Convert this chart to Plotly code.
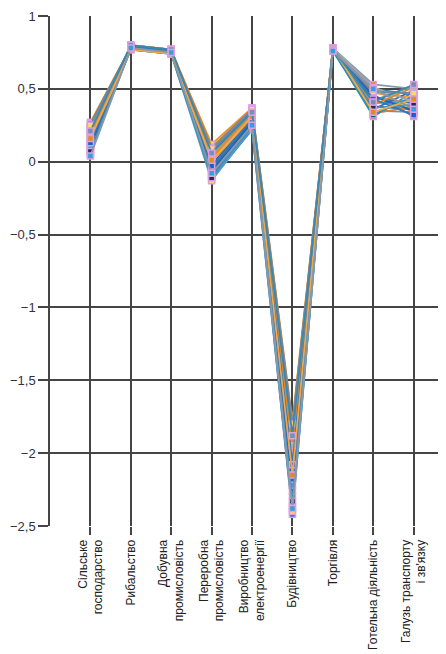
import plotly.graph_objects as go

categories = [
    "Сільське<br>господарство",
    "Рибальство",
    "Добувна<br>промисловість",
    "Переробна<br>промисловість",
    "Виробництво<br>електроенергії",
    "Будівництво",
    "Торгівля",
    "Готельна діяльність",
    "Галузь транспорту<br>і зв'язку",
]

# each series: values for the 9 categories
s01 = [0.05, 0.80, 0.77, -0.12, 0.22, -2.42, 0.78, 0.44, 0.40]
s02 = [0.27, 0.79, 0.76, 0.12, 0.37, -1.78, 0.77, 0.52, 0.33]
s03 = [0.10, 0.78, 0.75, -0.05, 0.25, -2.30, 0.77, 0.31, 0.48]
s04 = [0.22, 0.79, 0.76, 0.08, 0.34, -1.90, 0.78, 0.53, 0.50]
s05 = [0.15, 0.77, 0.74, -0.02, 0.30, -2.05, 0.76, 0.38, 0.36]
s06 = [0.08, 0.80, 0.77, -0.09, 0.24, -2.36, 0.78, 0.47, 0.44]
s07 = [0.24, 0.78, 0.75, 0.05, 0.33, -1.84, 0.77, 0.42, 0.52]
s08 = [0.18, 0.79, 0.76, 0.02, 0.31, -1.98, 0.77, 0.35, 0.34]
s09 = [0.12, 0.77, 0.75, -0.07, 0.27, -2.18, 0.76, 0.50, 0.46]
s10 = [0.20, 0.80, 0.77, 0.10, 0.36, -1.82, 0.78, 0.33, 0.38]
s11 = [0.06, 0.78, 0.74, -0.13, 0.23, -2.40, 0.77, 0.40, 0.42]
s12 = [0.26, 0.79, 0.76, 0.07, 0.35, -1.87, 0.78, 0.46, 0.31]
s13 = [0.14, 0.78, 0.75, -0.04, 0.28, -2.12, 0.77, 0.36, 0.49]
s14 = [0.17, 0.80, 0.77, 0.00, 0.30, -2.01, 0.77, 0.49, 0.37]
s15 = [0.09, 0.77, 0.74, -0.10, 0.26, -2.26, 0.76, 0.32, 0.45]
s16 = [0.23, 0.79, 0.76, 0.04, 0.32, -1.93, 0.78, 0.51, 0.41]
s17 = [0.11, 0.78, 0.75, -0.06, 0.27, -2.22, 0.77, 0.45, 0.35]
s18 = [0.19, 0.79, 0.77, 0.03, 0.33, -1.95, 0.78, 0.39, 0.51]
s19 = [0.07, 0.80, 0.76, -0.11, 0.24, -2.33, 0.77, 0.37, 0.39]
s20 = [0.25, 0.78, 0.75, 0.09, 0.36, -1.80, 0.76, 0.48, 0.47]
s21 = [0.13, 0.79, 0.76, -0.03, 0.29, -2.08, 0.77, 0.43, 0.32]
s22 = [0.16, 0.77, 0.74, 0.01, 0.31, -2.15, 0.78, 0.34, 0.43]
s23 = [0.21, 0.80, 0.77, 0.06, 0.34, -1.88, 0.77, 0.41, 0.53]
s24 = [0.04, 0.78, 0.75, -0.08, 0.25, -2.38, 0.76, 0.50, 0.36]

series = [s01, s02, s03, s04, s05, s06, s07, s08, s09, s10, s11, s12,
          s13, s14, s15, s16, s17, s18, s19, s20, s21, s22, s23, s24]

line_colors = ["#2f6fbf", "#e8922a", "#3b8fa8", "#8a9bb0", "#1f5fa8", "#f0a040",
               "#4aa0c8", "#7f8fa0", "#2a7fb8", "#d98030", "#5a9fc0", "#6a8098",
               "#3070b0", "#eb9a38", "#2f8fb0", "#9aa8b8", "#2565b0", "#e48828",
               "#4590c0", "#7888a0", "#3578b8", "#f2a848", "#3a88b0", "#8898a8"]

marker_colors = ["#1060e0", "#ffd966", "#1f2d5a", "#e08a20", "#106080", "#7090c0",
                 "#e06040", "#b0b0b0", "#30a0e0", "#1f2d5a", "#ffd966", "#1060e0",
                 "#e08a20", "#7090c0", "#106080", "#e06040", "#30a0e0", "#b0b0b0",
                 "#1f2d5a", "#ffd966", "#1060e0", "#e08a20", "#7090c0", "#30a0e0"]

x_pos = list(range(1, len(categories) + 1))

fig = go.Figure()
for i, vals in enumerate(series):
    fig.add_trace(go.Scatter(
        x=x_pos, y=vals, mode="lines+markers",
        line=dict(color=line_colors[i], width=1.8),
        marker=dict(symbol="square", size=6, color=marker_colors[i],
                    line=dict(color="#dda0dd", width=1.5)),
        showlegend=False, hoverinfo="y",
    ))

# the page body has an 8px margin; size the figure so the plot lands in place
fig.update_layout(
    width=438, height=646,
    margin=dict(l=42, r=0, t=8, b=128),
    paper_bgcolor="white", plot_bgcolor="white",
    separators=", ",
    font=dict(family="Liberation Sans, Arial, sans-serif", color="#303040"),
)

fig.update_xaxes(
    range=[0, 9.8], tickmode="array", tickvals=x_pos, ticktext=categories,
    tickangle=-90, tickfont=dict(size=12, color="#202020"),
    showgrid=True, gridcolor="#454545", gridwidth=1.5,
    ticks="outside", ticklen=8, tickcolor="#454545", tickwidth=1.5,
    showline=False, zeroline=False,
)
fig.update_yaxes(
    range=[-2.5, 1], tickvals=[1, 0.5, 0, -0.5, -1, -1.5, -2, -2.5],
    tickfont=dict(size=13, color="#303040"),
    showgrid=True, gridcolor="#454545", gridwidth=1.5,
    ticks="outside", ticklen=10, tickcolor="#454545", tickwidth=1.5,
    showline=True, linecolor="#454545", linewidth=1.5,
    zeroline=False,
)

fig.write_html("out.html")
